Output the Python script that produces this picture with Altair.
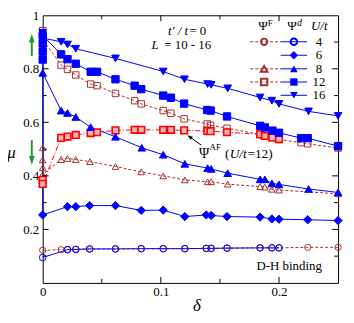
import altair as alt
import pandas as pd

# ---------------- data ----------------
d_U16_d = [0, 0, 0.0156, 0.021, 0.028, 0.0616, 0.102, 0.12, 0.1396, 0.1426, 0.1566, 0.184, 0.194, 0.2, 0.225, 0.25]
m_U16_d = [0.935, 0.915, 0.901, 0.891, 0.875, 0.839, 0.790, 0.761, 0.743, 0.740, 0.727, 0.693, 0.681, 0.669, 0.641, 0.624]

d_U12_d = [0, 0, 0, 0, 0.0156, 0.021, 0.028, 0.0406, 0.046, 0.0616, 0.0778, 0.0834, 0.102, 0.1085,
           0.1197, 0.1393, 0.1421, 0.156, 0.184, 0.188, 0.1944, 0.2, 0.2187, 0.2243, 0.25]
m_U12_d = [0.835, 0.865, 0.895, 0.925, 0.854, 0.836, 0.819, 0.789, 0.789, 0.761, 0.737, 0.724, 0.700, 0.692,
           0.670, 0.646, 0.644, 0.622, 0.587, 0.581, 0.569, 0.561, 0.541, 0.541, 0.511]

d_U12_F = [0, 0, 0.0156, 0.021, 0.028, 0.0406, 0.046, 0.0616, 0.0778, 0.0834, 0.102, 0.1085, 0.1197,
           0.1393, 0.1421, 0.156, 0.184, 0.188, 0.1944, 0.2, 0.2187, 0.2243, 0.25]
m_U12_F = [0.943, 0.91, 0.814, 0.798, 0.777, 0.743, 0.737, 0.708, 0.681, 0.669, 0.644, 0.634, 0.613,
           0.594, 0.589, 0.578, 0.555, 0.550, 0.545, 0.536, 0.524, 0.520, 0.504]

d_U12_AF = [0, 0, 0.0156, 0.021, 0.028, 0.0406, 0.046, 0.0616, 0.0778, 0.0834, 0.102, 0.1085, 0.1197,
            0.1393, 0.1421, 0.156, 0.184, 0.188, 0.1944, 0.2]
m_U12_AF = [0.385, 0.37, 0.542, 0.547, 0.553, 0.560, 0.563, 0.570, 0.572, 0.572, 0.572, 0.572, 0.570,
            0.568, 0.567, 0.563, 0.555, 0.549, 0.543, 0.537]

d_U8_d = [0, 0, 0.0156, 0.021, 0.028, 0.0406, 0.0616, 0.0839, 0.102, 0.1203, 0.1396, 0.1426, 0.1566,
          0.184, 0.188, 0.194, 0.2, 0.225, 0.25]
m_U8_d = [0.835, 0.785, 0.644, 0.635, 0.620, 0.582, 0.546, 0.505, 0.479, 0.445, 0.429, 0.426, 0.410,
          0.387, 0.387, 0.372, 0.368, 0.351, 0.338]

d_U8_F = [0, 0, 0, 0, 0.0156, 0.021, 0.028, 0.040, 0.0616, 0.0834, 0.102, 0.1203, 0.1396, 0.1426,
          0.1566, 0.184, 0.188, 0.194, 0.2, 0.25]
m_U8_F = [0.505, 0.46, 0.43, 0.405, 0.461, 0.465, 0.461, 0.453, 0.435, 0.415, 0.400, 0.385, 0.378, 0.378,
          0.369, 0.360, 0.358, 0.350, 0.347, 0.333]

d_U6_d = [0, 0.021, 0.028, 0.0397, 0.0616, 0.0834, 0.102, 0.1203, 0.1384, 0.1426, 0.156, 0.184, 0.194,
          0.2, 0.2243, 0.25]
m_U6_d = [0.254, 0.285, 0.285, 0.289, 0.289, 0.271, 0.272, 0.248, 0.254, 0.252, 0.248, 0.246, 0.239,
          0.238, 0.236, 0.233]

d_U4_d = [0, 0.021, 0.028, 0.0397, 0.0616, 0.0834, 0.102, 0.1203, 0.1384, 0.1426, 0.156, 0.184, 0.194, 0.2]
m_U4_d = [0.095, 0.124, 0.125, 0.127, 0.127, 0.128, 0.128, 0.128, 0.129, 0.129, 0.130, 0.131, 0.131, 0.131]

d_U4_F = [0, 0.0156, 0.021, 0.028, 0.0397, 0.0616, 0.0834, 0.102, 0.1203, 0.1384, 0.1426, 0.156, 0.184,
          0.194, 0.2, 0.2243, 0.25]
m_U4_F = [0.122, 0.124, 0.125, 0.126, 0.127, 0.127, 0.128, 0.128, 0.128, 0.129, 0.129, 0.130, 0.131,
          0.131, 0.131, 0.133, 0.133]

# vertical connector drawn at delta = 0
d_link = [0, 0]
m_link = [0.785, 0.254]

legend_U = ["4", "6", "8", "12", "16"]
x_label_values = [0, 0.1, 0.2]
y_label_values = [0.2, 0.4, 0.6, 0.8, 1.0]
x_major = [0.1, 0.2]
x_minor = [0.05, 0.15]
y_major = [0.2, 0.4, 0.6, 0.8]
y_minor = [0.1, 0.3, 0.5, 0.7, 0.9]

# ---------------- styling ----------------
W, H = 298, 270
FONT = "Liberation Serif"
BLUE = "#0000ff"
BROWN = "#a83030"
RED = "#ff0000"
GREEN = "#1f9a2a"
DASH_F = [3, 2]
DASH_AF = [5, 2, 1, 2]

xscale = alt.Scale(domain=[0, 0.25], nice=False, zero=False)
yscale = alt.Scale(domain=[0, 1], nice=False, zero=False)

xaxis = alt.Axis(values=x_label_values,
                 labelExpr="datum.value == 0 ? '0' : format(datum.value, '.1f')",
                 ticks=False, tickSize=0, domain=False, grid=False, labelFlush=False,
                 labelOverlap=False, labelFont=FONT, labelFontSize=13, labelColor="black",
                 labelPadding=3, title="δ", titleFont=FONT, titleFontSize=17,
                 titleFontStyle="italic", titleFontWeight="normal", titleColor="black",
                 titleX=155, titleY=23, titleBaseline="middle", titleAlign="center")
yaxis = alt.Axis(values=y_label_values,
                 labelExpr="datum.value == 1 ? '1' : format(datum.value, '.1f')",
                 ticks=False, tickSize=0, domain=False, grid=False, labelFlush=False,
                 labelOverlap=False, labelFont=FONT, labelFontSize=13, labelColor="black",
                 labelPadding=4, title="μ", titleFont=FONT, titleFontSize=17,
                 titleFontStyle="italic", titleFontWeight="normal", titleColor="black",
                 titleAngle=0, titleX=-32, titleY=138, titleBaseline="middle", titleAlign="center")

X = alt.X("delta:Q", scale=xscale, axis=xaxis)
Y = alt.Y("mu:Q", scale=yscale, axis=yaxis)


def frame(d, m):
    return pd.DataFrame({"delta": d, "mu": m, "i": list(range(len(d)))})


def line_layer(d, m, color, dash=None):
    kw = dict(color=color, strokeWidth=1)
    if dash:
        kw["strokeDash"] = dash
    return alt.Chart(frame(d, m)).mark_line(**kw).encode(x=X, y=Y, order=alt.Order("i:Q"))


def point_layer(d, m, shape, color, filled, size, fill=None, sw=1):
    kw = dict(shape=shape, size=size, opacity=1, strokeWidth=sw, filled=filled)
    if filled:
        kw["fill"] = fill if fill else color
        kw["stroke"] = color
    else:
        kw["color"] = color
    return alt.Chart(frame(d, m)).mark_point(**kw).encode(x=X, y=Y)


one = pd.DataFrame({"a": [0]})


def txt(s, x, y, size=13, style="normal", align="left", color="black"):
    return alt.Chart(one).mark_text(text=s, font=FONT, fontSize=size, fontStyle=style,
                                    align=align, baseline="middle", color=color).encode(
        x=alt.value(x), y=alt.value(y))


layers = []

# lines
layers += [
    line_layer(d_link, m_link, BLUE),
    line_layer(d_U4_F, m_U4_F, BROWN, DASH_F),
    line_layer(d_U8_F, m_U8_F, BROWN, DASH_F),
    line_layer(d_U12_F, m_U12_F, BROWN, DASH_F),
    line_layer(d_U12_AF, m_U12_AF, RED, DASH_AF),
    line_layer(d_U4_d, m_U4_d, BLUE),
    line_layer(d_U6_d, m_U6_d, BLUE),
    line_layer(d_U8_d, m_U8_d, BLUE),
    line_layer(d_U12_d, m_U12_d, BLUE),
    line_layer(d_U16_d, m_U16_d, BLUE),
]

# points
layers += [
    point_layer(d_U4_F, m_U4_F, "circle", BROWN, False, 40),
    point_layer(d_U8_F, m_U8_F, "triangle-up", BROWN, False, 45),
    point_layer(d_U12_F, m_U12_F, "square", BROWN, False, 42),
    point_layer(d_U12_AF, m_U12_AF, "square", RED, True, 45, fill="#ffb4b4", sw=1.6),
    point_layer(d_U4_d, m_U4_d, "circle", BLUE, False, 45),
    point_layer(d_U6_d, m_U6_d, "diamond", BLUE, True, 70),
    point_layer(d_U8_d, m_U8_d, "triangle-up", BLUE, True, 60),
    point_layer(d_U12_d, m_U12_d, "square", BLUE, True, 55),
    point_layer(d_U16_d, m_U16_d, "triangle-down", BLUE, True, 60),
]

# inward tick marks on all four sides
def vticks(vals, length):
    df = pd.DataFrame({"delta": vals})
    b = alt.Chart(df).mark_rule(color="black", strokeWidth=1)
    return [b.encode(x=X, y=alt.value(H), y2=alt.value(H - length)),
            b.encode(x=X, y=alt.value(0), y2=alt.value(length))]


def hticks(vals, length):
    df = pd.DataFrame({"mu": vals})
    b = alt.Chart(df).mark_rule(color="black", strokeWidth=1)
    return [b.encode(y=Y, x=alt.value(0), x2=alt.value(length)),
            b.encode(y=Y, x=alt.value(W), x2=alt.value(W - length))]


layers += vticks(x_major, 6) + vticks(x_minor, 4) + hticks(y_major, 6) + hticks(y_minor, 4)

# green arrows (outside the left axis)
ARROW = "M0,-1L0.65,1L-0.65,1Z"
layers += [
    alt.Chart(one).mark_rule(color=GREEN, strokeWidth=2).encode(
        x=alt.value(-11), y=alt.value(41), y2=alt.value(26)),
    alt.Chart(one).mark_point(shape=ARROW, filled=True, color=GREEN, size=80, opacity=1).encode(
        x=alt.value(-11), y=alt.value(23)),
    alt.Chart(one).mark_rule(color=GREEN, strokeWidth=2).encode(
        x=alt.value(-11), y=alt.value(126), y2=alt.value(142)),
    alt.Chart(one).mark_point(shape=ARROW, filled=True, color=GREEN, size=80, opacity=1,
                              angle=180).encode(x=alt.value(-11), y=alt.value(146.5)),
]

# Psi^AF annotation arrow
layers += [
    alt.Chart(one).mark_rule(color="black", strokeWidth=1).encode(
        x=alt.value(160), y=alt.value(131), x2=alt.value(148.5), y2=alt.value(122.8)),
    alt.Chart(one).mark_point(shape=ARROW, filled=True, color="black", size=30, opacity=1,
                              angle=305).encode(x=alt.value(148.2), y=alt.value(122.5)),
]

# annotations
layers += [
    txt("t′ / t", 146.7, 15.8, size=13, style="italic", align="right"),
    txt("= 0", 148, 15.8, size=13),
    txt("L", 109.8, 30, size=13, style="italic"),
    txt("= 10 - 16", 170, 30, size=13, align="right"),
    txt("D-H binding", 281.7, 252.7, size=13, align="right"),
    txt("Ψ", 157.7, 139.5, size=14),
    txt("AF", 168.4, 133, size=9),
    txt("(", 184, 139.5, size=13.5),
    txt("U/t", 188.6, 139.5, size=13.5, style="italic"),
    txt("=12)", 206.5, 139.5, size=13.5),
]

# custom legend
LX_F0, LX_F1, LX_FM = 209.4, 240, 223.4
LX_D0, LX_D1, LX_DM = 240, 266.7, 253.4
LX_N = 278.7
ROW_Y = [26.7, 40.3, 54, 67.3, 80.7]
layers += [
    txt("Ψ", 217.4, 11, size=13),
    txt("F", 227, 8, size=9),
    txt("Ψ", 246.7, 11, size=13),
    txt("d", 256.5, 8, size=10, style="italic"),
    txt("U/t", 279, 11, size=13, style="italic", align="center"),
]
legend_style = {
    "4": (("circle", False, 40), ("circle", False, 45)),
    "6": (None, ("diamond", True, 70)),
    "8": (("triangle-up", False, 45), ("triangle-up", True, 60)),
    "12": (("square", False, 42), ("square", True, 55)),
    "16": (None, ("triangle-down", True, 60)),
}
for u, ry in zip(legend_U, ROW_Y):
    fsty, dsty = legend_style[u]
    if fsty:
        layers.append(alt.Chart(one).mark_rule(color=BROWN, strokeWidth=1, strokeDash=DASH_F).encode(
            x=alt.value(LX_F0), x2=alt.value(LX_F1), y=alt.value(ry)))
        kw = dict(shape=fsty[0], size=fsty[2], opacity=1, filled=False, color=BROWN)
        layers.append(alt.Chart(one).mark_point(**kw).encode(x=alt.value(LX_FM), y=alt.value(ry)))
    layers.append(alt.Chart(one).mark_rule(color=BLUE, strokeWidth=1).encode(
        x=alt.value(LX_D0), x2=alt.value(LX_D1), y=alt.value(ry)))
    kw = dict(shape=dsty[0], size=dsty[2], opacity=1, filled=dsty[1], color=BLUE)
    layers.append(alt.Chart(one).mark_point(**kw).encode(x=alt.value(LX_DM), y=alt.value(ry)))
    layers.append(txt(u, LX_N, ry, size=13, align="center"))

chart = alt.layer(*layers).properties(
    width=W, height=H,
    padding={"left": 35, "top": 6, "right": 8, "bottom": 30},
    autosize=alt.AutoSizeParams(type="none"),
    background="white",
).configure_view(stroke="black", strokeWidth=1)

chart.save("out.html", embed_options={"renderer": "svg", "actions": False})
